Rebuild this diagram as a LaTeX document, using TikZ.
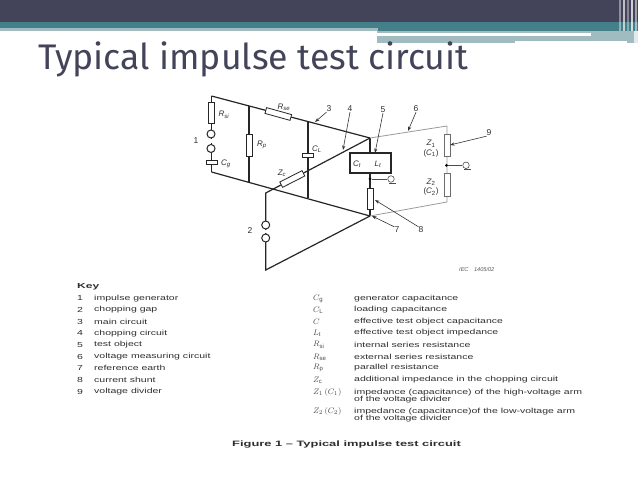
\documentclass[tikz,border=0pt]{standalone}
\usepackage{fontspec}
\usetikzlibrary{arrows.meta}
\setmainfont{Liberation Sans}
\newfontfamily\titlefont{Fira Sans}
\newfontfamily\keyfont[FakeStretch=1.44]{Liberation Sans}
\newfontfamily\keybold[FakeStretch=1.65]{Liberation Sans Bold}
\definecolor{slatedark}{HTML}{434459}
\definecolor{tealbar}{HTML}{44808A}
\definecolor{palebar}{HTML}{A0BCC0}
\definecolor{inkgrey}{HTML}{2E2E2E}
\definecolor{wiregrey}{HTML}{9A9A9A}
\tikzset{
  wire/.style={line width=1.2pt,draw=black!85},
  gwire/.style={line width=0.8pt,draw=wiregrey},
  lead/.style={line width=0.6pt,draw=black!80,-{Stealth[length=4.5pt,width=3.2pt]}},
  res/.style={draw=black!85,line width=0.8pt,fill=white,rectangle,inner sep=0pt,minimum width=#1,minimum height=6pt},
  res/.default=21pt,
  vres/.style={draw=black!85,line width=0.8pt,fill=white,rectangle,inner sep=0pt,minimum width=6pt,minimum height=#1},
  gap/.style={draw=black!85,line width=1pt,fill=white,circle,inner sep=0pt,minimum size=8pt},
  plate/.style={draw=black!85,line width=0.9pt,fill=white,rectangle,inner sep=0pt,minimum width=11pt,minimum height=3.4pt},
  dotj/.style={fill=black,circle,inner sep=0pt,minimum size=3pt},
  probe/.style={draw=black!70,line width=0.6pt,circle,inner sep=0pt,minimum size=6.5pt},
  lab/.style={inner sep=0pt,font=\fontsize{8}{9}\selectfont\itshape,text=inkgrey},
  num/.style={inner sep=0pt,font=\fontsize{8.5}{9}\selectfont,text=inkgrey},
  key/.style={anchor=west,inner sep=0pt,font=\keyfont\fontsize{7.3}{7.3}\selectfont,text=inkgrey},
  sym/.style={anchor=west,inner sep=0pt,font=\fontsize{8}{8}\selectfont,text=black!70},
}
\begin{document}
\begin{tikzpicture}[x=1pt,y=-1pt]
\useasboundingbox (0,0) rectangle (638,478);
% header
\fill[white] (0,0) rectangle (638,478);
\fill[palebar] (377,31) rectangle (515,43);
\fill[palebar] (515,31) rectangle (627,41);
\fill[palebar] (627,31) rectangle (634,43);
\fill[white!70!palebar] (634,31) rectangle (638,43);
\fill[white] (377,33) rectangle (591,36);
\fill[tealbar] (0,21.7) rectangle (638,31);
\fill[palebar] (0,27.7) rectangle (377.5,31);
\fill[slatedark] (0,0) rectangle (638,21.7);
\foreach \xa/\c in {619/40,623/65,627/35,631/75,635/50}{
  \fill[white,opacity=0.\c] (\xa,0) rectangle ++(1.6,31);
}
\node[anchor=base west,inner sep=0pt,text=slatedark,font=\titlefont\fontsize{35.6}{36}\selectfont] (title) at (38,69.5) {Typical impulse test circuit};

% junctions
\coordinate (TL) at (211.5,96);
\coordinate (BL) at (211.5,172);
\coordinate (TR) at (370,138);
\coordinate (BR) at (370,216);
\coordinate (RpT) at (249,106);
\coordinate (RpB) at (249,183);
\coordinate (ClT) at (308,122);
\coordinate (ClB) at (308,198);
\coordinate (ChopC) at (265.7,193);
\coordinate (ChopB) at (265.7,270);
\coordinate (DivT) at (447,126);
\coordinate (DivB) at (447,202);

% wires
\draw[wire] (TL) -- (TR);
\draw[wire] (BL) -- (BR);
\draw[wire] (TL) -- (BL);
\draw[wire] (RpT) -- (RpB);
\draw[wire] (ClT) -- (ClB);
\draw[wire] (TR) -- (ChopC) -- (ChopB) -- (BR);
\draw[wire] (TR) -- (BR);
\draw[gwire] (TR) -- (DivT) -- (DivB) -- (BR);

% components
\node[vres=21pt] (Rsi) at (211.5,112.5) {};
\node[gap] (g1a) at (211,134) {};
\node[gap] (g1b) at (211,148.5) {};
\fill[white] (206,139) rectangle (217,143.5);
\node[plate] (Cg) at (211.5,162.5) {};
\node[vres=22pt] (Rp) at (249,145) {};
\node[res=26pt,rotate=-15.5] (Rse) at (278.3,114) {};
\node[plate] (Cl) at (308,155.5) {};
\node[res=25pt,rotate=27] (Zc) at (292.3,179) {};
\node[gap] (g2a) at (265.7,225) {};
\node[gap] (g2b) at (265.7,238) {};
\fill[white] (261,230) rectangle (271,233);
\node[draw=black!85,line width=1.1pt,fill=white,rectangle,minimum width=41pt,minimum height=20pt,inner sep=0pt] (DUT) at (370.5,163) {};
\node[lab] (Ct) at (357,164) {C\textsubscript{t}};
\node[lab] (Lt) at (378,164) {L\textsubscript{t}};
\node[dotj] (J1) at (370,179) {};
\node[vres=21pt] (Sh) at (370,198.5) {};
\node[probe] (E1) at (391,179) {};
\draw[line width=0.6pt,draw=black!70] (J1) -- (E1);
\draw[line width=0.6pt,draw=black!70] (389,183) -- (396,183);
\node[draw=wiregrey!70!black,line width=0.8pt,fill=white,rectangle,inner sep=0pt,minimum width=6pt,minimum height=22pt] (Z1) at (447,145) {};
\node[draw=wiregrey!70!black,line width=0.8pt,fill=white,rectangle,inner sep=0pt,minimum width=6pt,minimum height=23pt] (Z2) at (447,184.5) {};
\node[dotj] (J2) at (446.5,165.3) {};
\node[probe] (E2) at (466,165.3) {};
\draw[line width=0.6pt,draw=black!70] (J2) -- (E2);
\draw[line width=0.6pt,draw=black!70] (464,169.3) -- (471,169.3);

% circuit labels
\node[lab] (lRsi) at (224,114.5) {R\textsubscript{si}};
\node[lab] (lCg) at (226,163.5) {C\textsubscript{g}};
\node[lab] (lRp) at (262,145) {R\textsubscript{p}};
\node[lab] (lRse) at (284,107) {R\textsubscript{se}};
\node[lab] (lCl) at (317,149) {C\textsubscript{L}};
\node[lab] (lZc) at (282,173) {Z\textsubscript{c}};
\node[lab,align=center,font=\fontsize{8}{9.5}\selectfont] (lZ1) at (431,148.5) {\textit{Z}\textsubscript{1}\\(\textit{C}\textsubscript{1})};
\node[lab,align=center,font=\fontsize{8}{9.5}\selectfont] (lZ2) at (431,187) {\textit{Z}\textsubscript{2}\\(\textit{C}\textsubscript{2})};
\node[num] (n1) at (196,141) {1};
\node[num] (n2) at (250,231) {2};
\node[num] (n3) at (329,109) {3};
\node[num] (n4) at (350,109) {4};
\node[num] (n5) at (383,110) {5};
\node[num] (n6) at (416,109) {6};
\node[num] (n7) at (397,230) {7};
\node[num] (n8) at (421,230) {8};
\node[num] (n9) at (489,133) {9};

% leaders
\coordinate (t3) at (315,122);
\coordinate (t4) at (343,150);
\coordinate (t5) at (375,153);
\coordinate (t6) at (408,131);
\coordinate (t7) at (372,216);
\coordinate (t8) at (375,200);
\coordinate (t9) at (450,145);
\draw[lead] (n3.south west) -- (t3);
\draw[lead] (n4.south) -- (t4);
\draw[lead] (n5.south) -- (t5);
\draw[lead] (n6.south) -- (t6);
\draw[lead] (n7.north west) -- (t7);
\draw[lead] (n8.north west) -- (t8);
\draw[lead] (n9.south west) -- (t9);

\node[anchor=west,inner sep=0pt,text=black!65,font=\fontsize{5.6}{6}\selectfont\itshape] (iec) at (459,270) {IEC\hspace{4pt} 1405/02};

% key left
\node[key,font=\keybold\fontsize{7.3}{7.3}\selectfont] (keyh) at (77,286.5) {Key};
\foreach \n/\yy/\txt in {1/298.3/impulse generator,2/310/chopping gap,3/321.7/main circuit,4/333.3/chopping circuit,5/345/test object,6/356.7/voltage measuring circuit,7/368.3/reference earth,8/380/current shunt,9/391.7/voltage divider}{
  \node[key] (kn\n) at (77,\yy) {\n};
  \node[key] (kt\n) at (94,\yy) {\txt};
}
% key right
\node[sym] (s1) at (313,298.7) {$C_{\mathrm{g}}$};
\node[sym] (s2) at (313,310) {$C_{\mathrm{L}}$};
\node[sym] (s3) at (313,321.7) {$C$};
\node[sym] (s4) at (313,333) {$L_{\mathrm{t}}$};
\node[sym] (s5) at (313,345) {$R_{\mathrm{si}}$};
\node[sym] (s6) at (313,357) {$R_{\mathrm{se}}$};
\node[sym] (s7) at (313,368) {$R_{\mathrm{p}}$};
\node[sym] (s8) at (313,380) {$Z_{\mathrm{c}}$};
\node[sym] (s9) at (313,392.3) {$Z_1\,(C_1)$};
\node[sym] (s10) at (313,411.7) {$Z_2\,(C_2)$};
\node[key] (d1) at (354,298.7) {generator capacitance};
\node[key] (d2) at (354,310) {loading capacitance};
\node[key] (d3) at (354,321.7) {effective test object capacitance};
\node[key] (d4) at (354,333) {effective test object impedance};
\node[key] (d5) at (354,345) {internal series resistance};
\node[key] (d6) at (354,357) {external series resistance};
\node[key] (d7) at (354,368) {parallel resistance};
\node[key] (d8) at (354,380) {additional impedance in the chopping circuit};
\node[key] (d9) at (354,392.3) {impedance (capacitance) of the high-voltage arm};
\node[key] (d9b) at (354,399.3) {of the voltage divider};
\node[key] (d10) at (354,411.7) {impedance (capacitance)of the low-voltage arm};
\node[key] (d10b) at (354,418.7) {of the voltage divider};
\node[anchor=west,inner sep=0pt,text=inkgrey,font=\keybold\fontsize{7.8}{8}\selectfont] (cap) at (232,445) {Figure 1 – Typical impulse test circuit};
\end{tikzpicture}
\end{document}
